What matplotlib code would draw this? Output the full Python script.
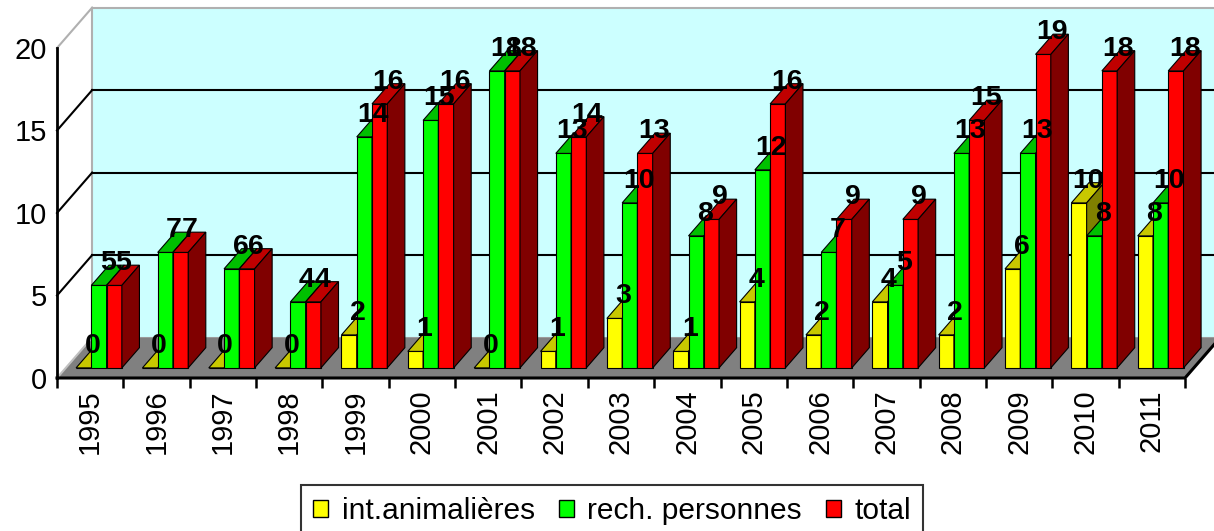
import matplotlib
matplotlib.use("Agg")
import matplotlib.pyplot as plt
from matplotlib.patches import Polygon, Patch

# données
years = ["1995", "1996", "1997", "1998", "1999", "2000", "2001", "2002", "2003",
         "2004", "2005", "2006", "2007", "2008", "2009", "2010", "2011"]
animaux = [0, 0, 0, 0, 2, 1, 0, 1, 3, 1, 4, 2, 4, 2, 6, 10, 8]
personnes = [5, 7, 6, 4, 14, 15, 18, 13, 10, 8, 12, 7, 5, 13, 13, 8, 10]
total = [5, 7, 6, 4, 16, 16, 18, 14, 13, 9, 16, 9, 9, 15, 19, 18, 18]
series_names = ["int.animalières", "rech. personnes", "total"]

# couleurs: face, dessus, côté
colors = [("#FFFF00", "#C8C800", "#808000"),
          ("#00FF00", "#00C000", "#008000"),
          ("#FF0000", "#C00000", "#800000")]

plt.rcParams['font.family'] = ['Liberation Sans', 'DejaVu Sans']

DX, DZ = 0.53, 2.45       # décalage de profondeur (unités catégorie / valeur)
F, B = 0.25, 0.75         # profondeur avant / arrière des barres
W = 0.23                  # largeur d'une barre
YMAX = 20


def P(x, z, d):
    """Projection d'un point (x, valeur, profondeur) sur le plan avant"""
    return (x + d * DX, z + d * DZ)


fig = plt.figure(figsize=(12.14, 5.31), dpi=100)
ax = fig.add_axes([57 / 1214, 1 - 378 / 531, 1128 / 1214, 330 / 531])
ax.set_xlim(-0.5, len(years) - 0.5)
ax.set_ylim(0, YMAX)
ax.set_facecolor("none")
for s in ax.spines.values():
    s.set_visible(False)

x_left, x_right = -0.5, len(years) - 0.5


def poly(pts, fc, ec="black", lw=0.8, z=2):
    ax.add_patch(Polygon(pts, closed=True, facecolor=fc, edgecolor=ec,
                         lw=lw, clip_on=False, zorder=z))


# mur du fond
poly([P(x_left, 0, 1), P(x_right, 0, 1), P(x_right, YMAX, 1), P(x_left, YMAX, 1)],
     "#CCFFFF", ec="#B0B0B0", lw=1.5, z=0)

# lignes de quadrillage (mur du fond + mur gauche)
for v in [5, 10, 15]:
    xs, ys = zip(P(x_left, v, 1), P(x_right, v, 1))
    ax.plot(xs, ys, color="black", lw=1.5, clip_on=False, zorder=1)
    xs, ys = zip(P(x_left, v, 0), P(x_left, v, 1))
    ax.plot(xs, ys, color="black", lw=1.5, clip_on=False, zorder=1)
xs, ys = zip(P(x_left, YMAX, 0), P(x_left, YMAX, 1))
ax.plot(xs, ys, color="#B0B0B0", lw=1.5, clip_on=False, zorder=1)

# sol
poly([P(x_left, 0, 0), P(x_right, 0, 0), P(x_right, 0, 1), P(x_left, 0, 1)],
     "#808080", ec="none", z=1)
xs, ys = zip(P(x_left, 0, 0), P(x_left, 0, 1))
ax.plot(xs, ys, color="#C0C0C0", lw=1.5, clip_on=False, zorder=1.5)
xs, ys = zip(P(x_left, 0, 0), P(x_right, 0, 0), P(x_right, 0, 1))
ax.plot(xs, ys, color="black", lw=2.2, clip_on=False, zorder=1.5)

# barres
data = [animaux, personnes, total]
for i in range(len(years)):
    for k, vals in enumerate(data):
        v = vals[i]
        x0 = i - 1.5 * W + k * W
        x1 = x0 + W
        face, top, side = colors[k]
        z = 3 + i * 3 + k
        poly([P(x0, 0, F), P(x1, 0, F), P(x1, v, F), P(x0, v, F)], face, z=z)
        poly([P(x0, v, F), P(x1, v, F), P(x1, v, B), P(x0, v, B)], top, z=z)
        poly([P(x1, 0, F), P(x1, 0, B), P(x1, v, B), P(x1, v, F)], side, z=z)
        cx, cy = P(x0 + W / 2, v, 0.5)
        ax.text(cx, cy + 0.72, str(v), ha="center", va="center",
                fontsize=20.5, fontweight="bold", zorder=200, clip_on=False)

# axe vertical
ax.plot([x_left, x_left], [0, YMAX], color="black", lw=2, clip_on=False, zorder=150)

ax.set_yticks([0, 5, 10, 15, 20])
ax.tick_params(axis="y", length=0, pad=7, labelsize=21)
ax.set_xticks(range(len(years)))
ax.set_xticklabels(years, rotation=90, fontsize=21, va="top")
ax.set_xticks([x_left + j for j in range(len(years) + 1)], minor=True)
ax.tick_params(axis="x", which="major", length=0, pad=8)
ax.tick_params(axis="x", which="minor", length=7, width=1.8, color="black")

handles = [Patch(facecolor=c[0], edgecolor="black", lw=1) for c in colors]
leg = fig.legend(handles, series_names, loc="upper center", ncol=3,
                 bbox_to_anchor=(612 / 1214, 1 - 485 / 531), fontsize=21.5,
                 frameon=True, fancybox=False, edgecolor="black",
                 handlelength=0.5, handleheight=0.5, handletextpad=0.45,
                 columnspacing=0.8, borderpad=0.4, borderaxespad=0)
leg.get_frame().set_linewidth(1.5)

fig.savefig("out.png", dpi=100)
